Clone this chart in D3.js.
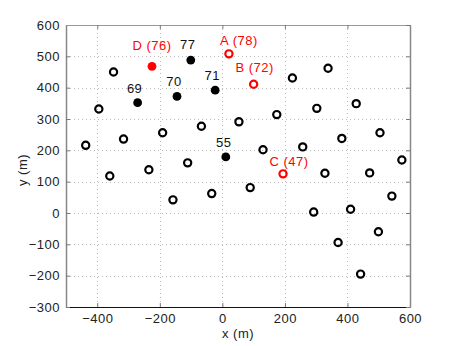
<!DOCTYPE html>
<html>
<head>
<meta charset="utf-8">
<script src="https://cdn.jsdelivr.net/npm/d3@7"></script>
<style>
  body { margin: 0; background: #fff; }
  svg text { font-family: "Liberation Sans", Arial, sans-serif; letter-spacing: 0.5px; }
</style>
</head>
<body>
<svg width="460" height="346"></svg>
<script>
// plain sensors (open black circles)
let openX = [-348, -395, -437, -316, -191, -67, -360, -235, -111, -158, -34,
    224, 338, 53, 174, 302, 428, 130, 257, 382, 504, 574, 328, 471, 89, 292, 410, 542, 499, 370, 442]
let openY = [450, 332, 216, 236, 256, 277, 118, 138, 160, 42, 62,
    431, 462, 291, 314, 334, 349, 202, 211, 238, 256, 169, 127, 128, 81, 3, 12, 54, -60, -94, -195]

// filled black points with their values
let solidX = [-271, -145, -101, -23, 11]
let solidY = [352, 372, 488, 392, 179]
let solidVal = [69, 70, 77, 71, 55]

// red points
let redName = ['A', 'B', 'C', 'D']
let redX = [21, 100, 194, -225]
let redY = [508, 411, 125, 468]
let redVal = [78, 72, 47, 76]
let redFilled = [false, false, false, true]

let xTicks = [-400, -200, 0, 200, 400, 600]
let yTicks = [-300, -200, -100, 0, 100, 200, 300, 400, 500, 600]

let svg = d3.select('svg')
let pLeft = 66, pTop = 25, pRight = 410, pBottom = 307
let fs = 13

let x = d3.scaleLinear().domain([-500, 600]).range([pLeft, pRight])
let y = d3.scaleLinear().domain([-300, 600]).range([pBottom, pTop])

// dotted grid
let grid = svg.append('g').attr('stroke', '#bbb').attr('stroke-dasharray', '1,3').attr('stroke-width', 1)
grid.selectAll('line.gx')
    .data(xTicks.filter(d => d < 600))
    .enter()
    .append('line')
    .attr('x1', d => Math.round(x(d)) + 0.5)
    .attr('x2', d => Math.round(x(d)) + 0.5)
    .attr('y1', pTop).attr('y2', pBottom)
grid.selectAll('line.gy')
    .data(yTicks.filter(d => d > -300 && d < 600))
    .enter()
    .append('line')
    .attr('y1', d => Math.round(y(d)) + 0.5)
    .attr('y2', d => Math.round(y(d)) + 0.5)
    .attr('x1', pLeft).attr('x2', pRight)

// axes
let xAxis = svg.append('g')
    .attr('transform', `translate(0,${pBottom})`)
    .call(d3.axisBottom(x).tickValues(xTicks).tickSizeInner(-4).tickSizeOuter(0).tickPadding(7))
let yAxis = svg.append('g')
    .attr('transform', `translate(${pLeft},0)`)
    .call(d3.axisLeft(y).tickValues(yTicks).tickSizeInner(-4).tickSizeOuter(0).tickPadding(6))
let xTop = svg.append('g')
    .attr('transform', `translate(0,${pTop})`)
    .call(d3.axisTop(x).tickValues(xTicks).tickSizeInner(-4).tickSizeOuter(0).tickFormat(''))
let yRight = svg.append('g')
    .attr('transform', `translate(${pRight},0)`)
    .call(d3.axisRight(y).tickValues(yTicks).tickSizeInner(-4).tickSizeOuter(0).tickFormat(''))

;[xAxis, yAxis, xTop, yRight].forEach(a => {
    a.selectAll('text').attr('font-size', fs).attr('fill', '#222')
        .attr('font-family', '"Liberation Sans", Arial, sans-serif')
    a.selectAll('.tick line').attr('stroke', '#777')
})
xAxis.select('.domain').attr('stroke', '#111')
yAxis.select('.domain').attr('stroke', '#888').attr('stroke-width', 1.5)
xTop.select('.domain').attr('stroke', '#999')
yRight.select('.domain').attr('stroke', '#888').attr('stroke-width', 1.5)

// axis titles
svg.append('text')
    .attr('x', (pLeft + pRight) / 2).attr('y', 338)
    .attr('text-anchor', 'middle').attr('font-size', fs).attr('fill', '#222')
    .text('x (m)')
svg.append('text')
    .attr('transform', `translate(27,${(pTop + pBottom) / 2 + 4}) rotate(-90)`)
    .attr('text-anchor', 'middle').attr('font-size', fs).attr('fill', '#222')
    .text('y (m)')

let pts = svg.append('g')

pts.selectAll('circle.open')
    .data(openX)
    .enter()
    .append('circle')
    .attr('class', 'open')
    .attr('cx', (d, i) => x(d))
    .attr('cy', (d, i) => y(openY[i]))
    .attr('r', 3.6)
    .attr('fill', 'none')
    .attr('stroke', '#000')
    .attr('stroke-width', 2.2)

pts.selectAll('circle.solid')
    .data(solidX)
    .enter()
    .append('circle')
    .attr('class', 'solid')
    .attr('cx', d => x(d))
    .attr('cy', (d, i) => y(solidY[i]))
    .attr('r', 4.4)
    .attr('fill', '#000')

pts.selectAll('circle.red')
    .data(redX)
    .enter()
    .append('circle')
    .attr('class', 'red')
    .attr('cx', d => x(d))
    .attr('cy', (d, i) => y(redY[i]))
    .attr('r', (d, i) => redFilled[i] ? 4.4 : 3.6)
    .attr('fill', (d, i) => redFilled[i] ? '#f00' : 'none')
    .attr('stroke', (d, i) => redFilled[i] ? 'none' : '#f00')
    .attr('stroke-width', 2.2)

// value labels, nudged by pixels the way they sit in the picture
let solidNudge = [[-3, -10], [-3, -10], [-3, -11], [-3, -10], [-2, -10]]
let redNudge = [[10, -9], [1, -12], [6, -8], [0, -16]]

pts.selectAll('text.solid')
    .data(solidX)
    .enter()
    .append('text')
    .attr('x', (d, i) => x(d) + solidNudge[i][0])
    .attr('y', (d, i) => y(solidY[i]) + solidNudge[i][1])
    .attr('text-anchor', 'middle').attr('font-size', fs).attr('fill', '#111')
    .text((d, i) => solidVal[i])

pts.selectAll('text.red')
    .data(redX)
    .enter()
    .append('text')
    .attr('x', (d, i) => x(d) + redNudge[i][0])
    .attr('y', (d, i) => y(redY[i]) + redNudge[i][1])
    .attr('text-anchor', 'middle').attr('font-size', fs).attr('fill', '#f00')
    .text((d, i) => `${redName[i]} (${redVal[i]})`)
</script>
</body>
</html>
